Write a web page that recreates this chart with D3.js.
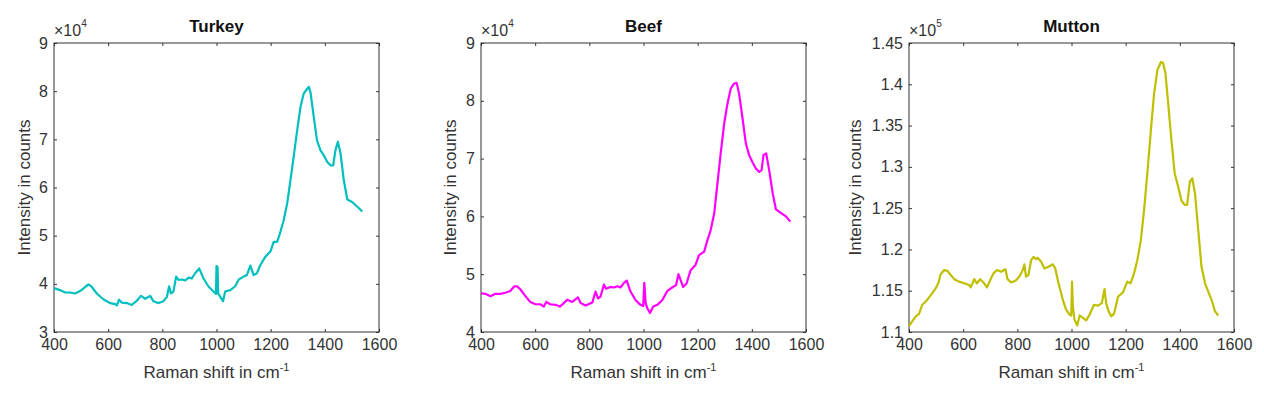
<!DOCTYPE html>
<html>
<head>
<meta charset="utf-8">
<script src="https://cdn.jsdelivr.net/npm/d3@7"></script>
<style>
  body { margin: 0; background: #fff; }
  svg { font-family: "Liberation Sans", Arial, sans-serif; }
</style>
</head>
<body>
<svg id="chart" width="1264" height="396"></svg>
<script>
// Raman spectra (shift in cm-1, intensity in counts)
const turkeyShift = [400, 422, 441, 459, 478, 496, 508, 527, 539, 558, 582, 607, 626, 632, 640, 650, 669, 687, 706, 721, 737, 755, 767, 786, 804, 817, 825, 832, 841, 851, 860, 872, 885, 897, 909, 921, 936, 952, 971, 989, 998, 1000, 1004, 1006, 1014, 1024, 1032, 1051, 1069, 1082, 1100, 1112, 1125, 1137, 1149, 1162, 1180, 1199, 1211, 1224, 1236, 1248, 1261, 1273, 1285, 1298, 1310, 1322, 1335, 1341, 1347, 1359, 1371, 1384, 1396, 1409, 1421, 1431, 1439, 1448, 1458, 1470, 1483, 1501, 1520, 1538];
const turkeyCounts = [39100, 38700, 38200, 38200, 38000, 38500, 39000, 39900, 39400, 38000, 36800, 36000, 35800, 35500, 36700, 36100, 36000, 35600, 36500, 37500, 36900, 37500, 36400, 36000, 36400, 37300, 39500, 38000, 38400, 41500, 40800, 40900, 40700, 41300, 41100, 42200, 43200, 41100, 39400, 38400, 37900, 43700, 43500, 38000, 37300, 36400, 38400, 38700, 39500, 40900, 41500, 41800, 43800, 41800, 42200, 43900, 45600, 46700, 48700, 48700, 50800, 53200, 56700, 61500, 66400, 71900, 76700, 79500, 80500, 80900, 79800, 74700, 69800, 67700, 66700, 65300, 64600, 64600, 67700, 69500, 67100, 61500, 57500, 57000, 56000, 55000];

const beefShift = [400, 416, 435, 453, 472, 490, 508, 523, 533, 545, 564, 582, 601, 619, 632, 641, 656, 675, 691, 706, 718, 737, 758, 768, 786, 811, 823, 832, 841, 854, 862, 878, 891, 903, 915, 928, 938, 952, 971, 989, 999, 1003, 1008, 1014, 1024, 1036, 1051, 1069, 1088, 1106, 1120, 1129, 1137, 1146, 1159, 1174, 1192, 1205, 1224, 1236, 1248, 1261, 1273, 1285, 1298, 1310, 1322, 1335, 1344, 1353, 1365, 1378, 1390, 1402, 1415, 1427, 1436, 1443, 1453, 1464, 1477, 1489, 1507, 1526, 1542];
const beefCounts = [46700, 46600, 46200, 46600, 46600, 46800, 47100, 47900, 47900, 47400, 46200, 45200, 44800, 44800, 44400, 45200, 44800, 44700, 44400, 45000, 45600, 45200, 46000, 45000, 44600, 45100, 47000, 45800, 46100, 48200, 47500, 47800, 47700, 47900, 47700, 48500, 48900, 47000, 45500, 44700, 44500, 48500, 45000, 44100, 43300, 44400, 44700, 45500, 47100, 47700, 48100, 50000, 49000, 47800, 48400, 50700, 51600, 53300, 53900, 55900, 57600, 60500, 65700, 70900, 76100, 79500, 82100, 83000, 83100, 81200, 77200, 72600, 70600, 69400, 68300, 67700, 68000, 70600, 70900, 68000, 64000, 61200, 60600, 60000, 59100];

const muttonShift = [400, 412, 425, 437, 449, 462, 474, 486, 499, 509, 517, 530, 542, 554, 567, 585, 604, 622, 628, 641, 651, 663, 675, 688, 700, 712, 725, 740, 756, 764, 777, 793, 807, 820, 826, 832, 841, 851, 860, 869, 875, 888, 900, 915, 931, 940, 952, 968, 980, 993, 999, 1002, 1005, 1011, 1021, 1030, 1042, 1054, 1067, 1083, 1098, 1112, 1122, 1128, 1137, 1147, 1157, 1172, 1190, 1206, 1218, 1231, 1243, 1256, 1268, 1280, 1293, 1305, 1317, 1330, 1338, 1347, 1357, 1369, 1381, 1394, 1406, 1418, 1427, 1437, 1446, 1456, 1468, 1480, 1493, 1505, 1517, 1530, 1542];
const muttonCounts = [110700, 111300, 111900, 112200, 113300, 113700, 114200, 114700, 115300, 116000, 117000, 117500, 117400, 116900, 116400, 116100, 115900, 115700, 115400, 116400, 115900, 116400, 116000, 115400, 116300, 117100, 117500, 117300, 117600, 116400, 116000, 116200, 116700, 117500, 118200, 116700, 116900, 118700, 119100, 118800, 119000, 118500, 117700, 117900, 118200, 117700, 115900, 113900, 112700, 112100, 112000, 116100, 113100, 111500, 110800, 112000, 111700, 111400, 112100, 113300, 113200, 113500, 115200, 113500, 112500, 111900, 112200, 114300, 114800, 116100, 115900, 117100, 118700, 121100, 124800, 129200, 134400, 138900, 141700, 142700, 142600, 141300, 137700, 133200, 129200, 127600, 125900, 125400, 125400, 128200, 128600, 126800, 122300, 117900, 115900, 114900, 113900, 112500, 112000];

const xTicks = [400, 600, 800, 1000, 1200, 1400, 1600];
const turkeyTicks = [30000, 40000, 50000, 60000, 70000, 80000, 90000];
const beefTicks = [40000, 50000, 60000, 70000, 80000, 90000];
const muttonTicks = [110000, 115000, 120000, 125000, 130000, 135000, 140000, 145000];

const panels = [
    { title: "Turkey", shift: turkeyShift, counts: turkeyCounts, ticks: turkeyTicks, exp: 4, color: "#00bfbf", left: 54, yLabelX: 24 },
    { title: "Beef", shift: beefShift, counts: beefCounts, ticks: beefTicks, exp: 4, color: "#ff00ff", left: 481, yLabelX: 450 },
    { title: "Mutton", shift: muttonShift, counts: muttonCounts, ticks: muttonTicks, exp: 5, color: "#bfbf00", left: 909, yLabelX: 855 }
];

const svg = d3.select("#chart");
const plotTop = 43, plotW = 325, plotH = 289;

panels.forEach(p => {
    const g = svg.append("g").attr("transform", `translate(${p.left}, ${plotTop})`);

    const x = d3.scaleLinear().domain([400, 1600]).range([0, plotW]);
    const y = d3.scaleLinear()
        .domain([p.ticks[0], p.ticks[p.ticks.length - 1]])
        .range([plotH, 0]);

    const scale = Math.pow(10, p.exp);
    const fmt = v => String(parseFloat((v / scale).toFixed(2)));

    // axes (ticks point inwards, like matlab)
    const styleAxis = ax => {
        ax.attr("font-family", null);
        ax.select(".domain").remove();
        ax.selectAll("line").attr("stroke", "#333");
        ax.selectAll("text").attr("fill", "#333").attr("font-size", "16px");
    };

    g.append("g")
        .attr("transform", `translate(0, ${plotH})`)
        .call(d3.axisBottom(x).tickValues(xTicks).tickSize(-3).tickPadding(7).tickFormat(d3.format("d")))
        .call(styleAxis);

    g.append("g")
        .call(d3.axisTop(x).tickValues(xTicks).tickSize(-3).tickFormat(""))
        .call(styleAxis);

    g.append("g")
        .call(d3.axisLeft(y).tickValues(p.ticks).tickSize(-3).tickPadding(6).tickFormat(fmt))
        .call(styleAxis);

    g.append("g")
        .attr("transform", `translate(${plotW}, 0)`)
        .call(d3.axisRight(y).tickValues(p.ticks).tickSize(-3).tickFormat(""))
        .call(styleAxis);

    g.append("rect")
        .attr("width", plotW)
        .attr("height", plotH)
        .attr("fill", "none")
        .attr("stroke", "#333")
        .attr("stroke-width", 1);

    const line = d3.line()
        .x((d, i) => x(p.shift[i]))
        .y(d => y(d));

    g.append("path")
        .datum(p.counts)
        .attr("fill", "none")
        .attr("stroke", p.color)
        .attr("stroke-width", 2.2)
        .attr("stroke-linejoin", "round")
        .attr("d", line);

    // title
    g.append("text")
        .attr("x", plotW / 2)
        .attr("y", -11)
        .attr("text-anchor", "middle")
        .attr("font-size", "17px")
        .attr("font-weight", "bold")
        .attr("fill", "#111")
        .text(p.title);

    // exponent label
    const expText = g.append("text")
        .attr("x", 0)
        .attr("y", -7)
        .attr("font-size", "16px")
        .attr("fill", "#333")
        .text("\u00d710");
    expText.append("tspan")
        .attr("dy", -9)
        .attr("font-size", "10px")
        .text(p.exp);

    // x label
    const xl = g.append("text")
        .attr("x", plotW / 2)
        .attr("y", plotH + 46)
        .attr("text-anchor", "middle")
        .attr("font-size", "17px")
        .attr("fill", "#333")
        .text("Raman shift in cm");
    xl.append("tspan")
        .attr("dy", -7)
        .attr("font-size", "11px")
        .text("-1");

    // y label
    svg.append("text")
        .attr("transform", `translate(${p.yLabelX}, ${plotTop + plotH / 2}) rotate(-90)`)
        .attr("text-anchor", "middle")
        .attr("dy", "0.35em")
        .attr("font-size", "17px")
        .attr("fill", "#333")
        .text("Intensity in counts");
});
</script>
</body>
</html>
